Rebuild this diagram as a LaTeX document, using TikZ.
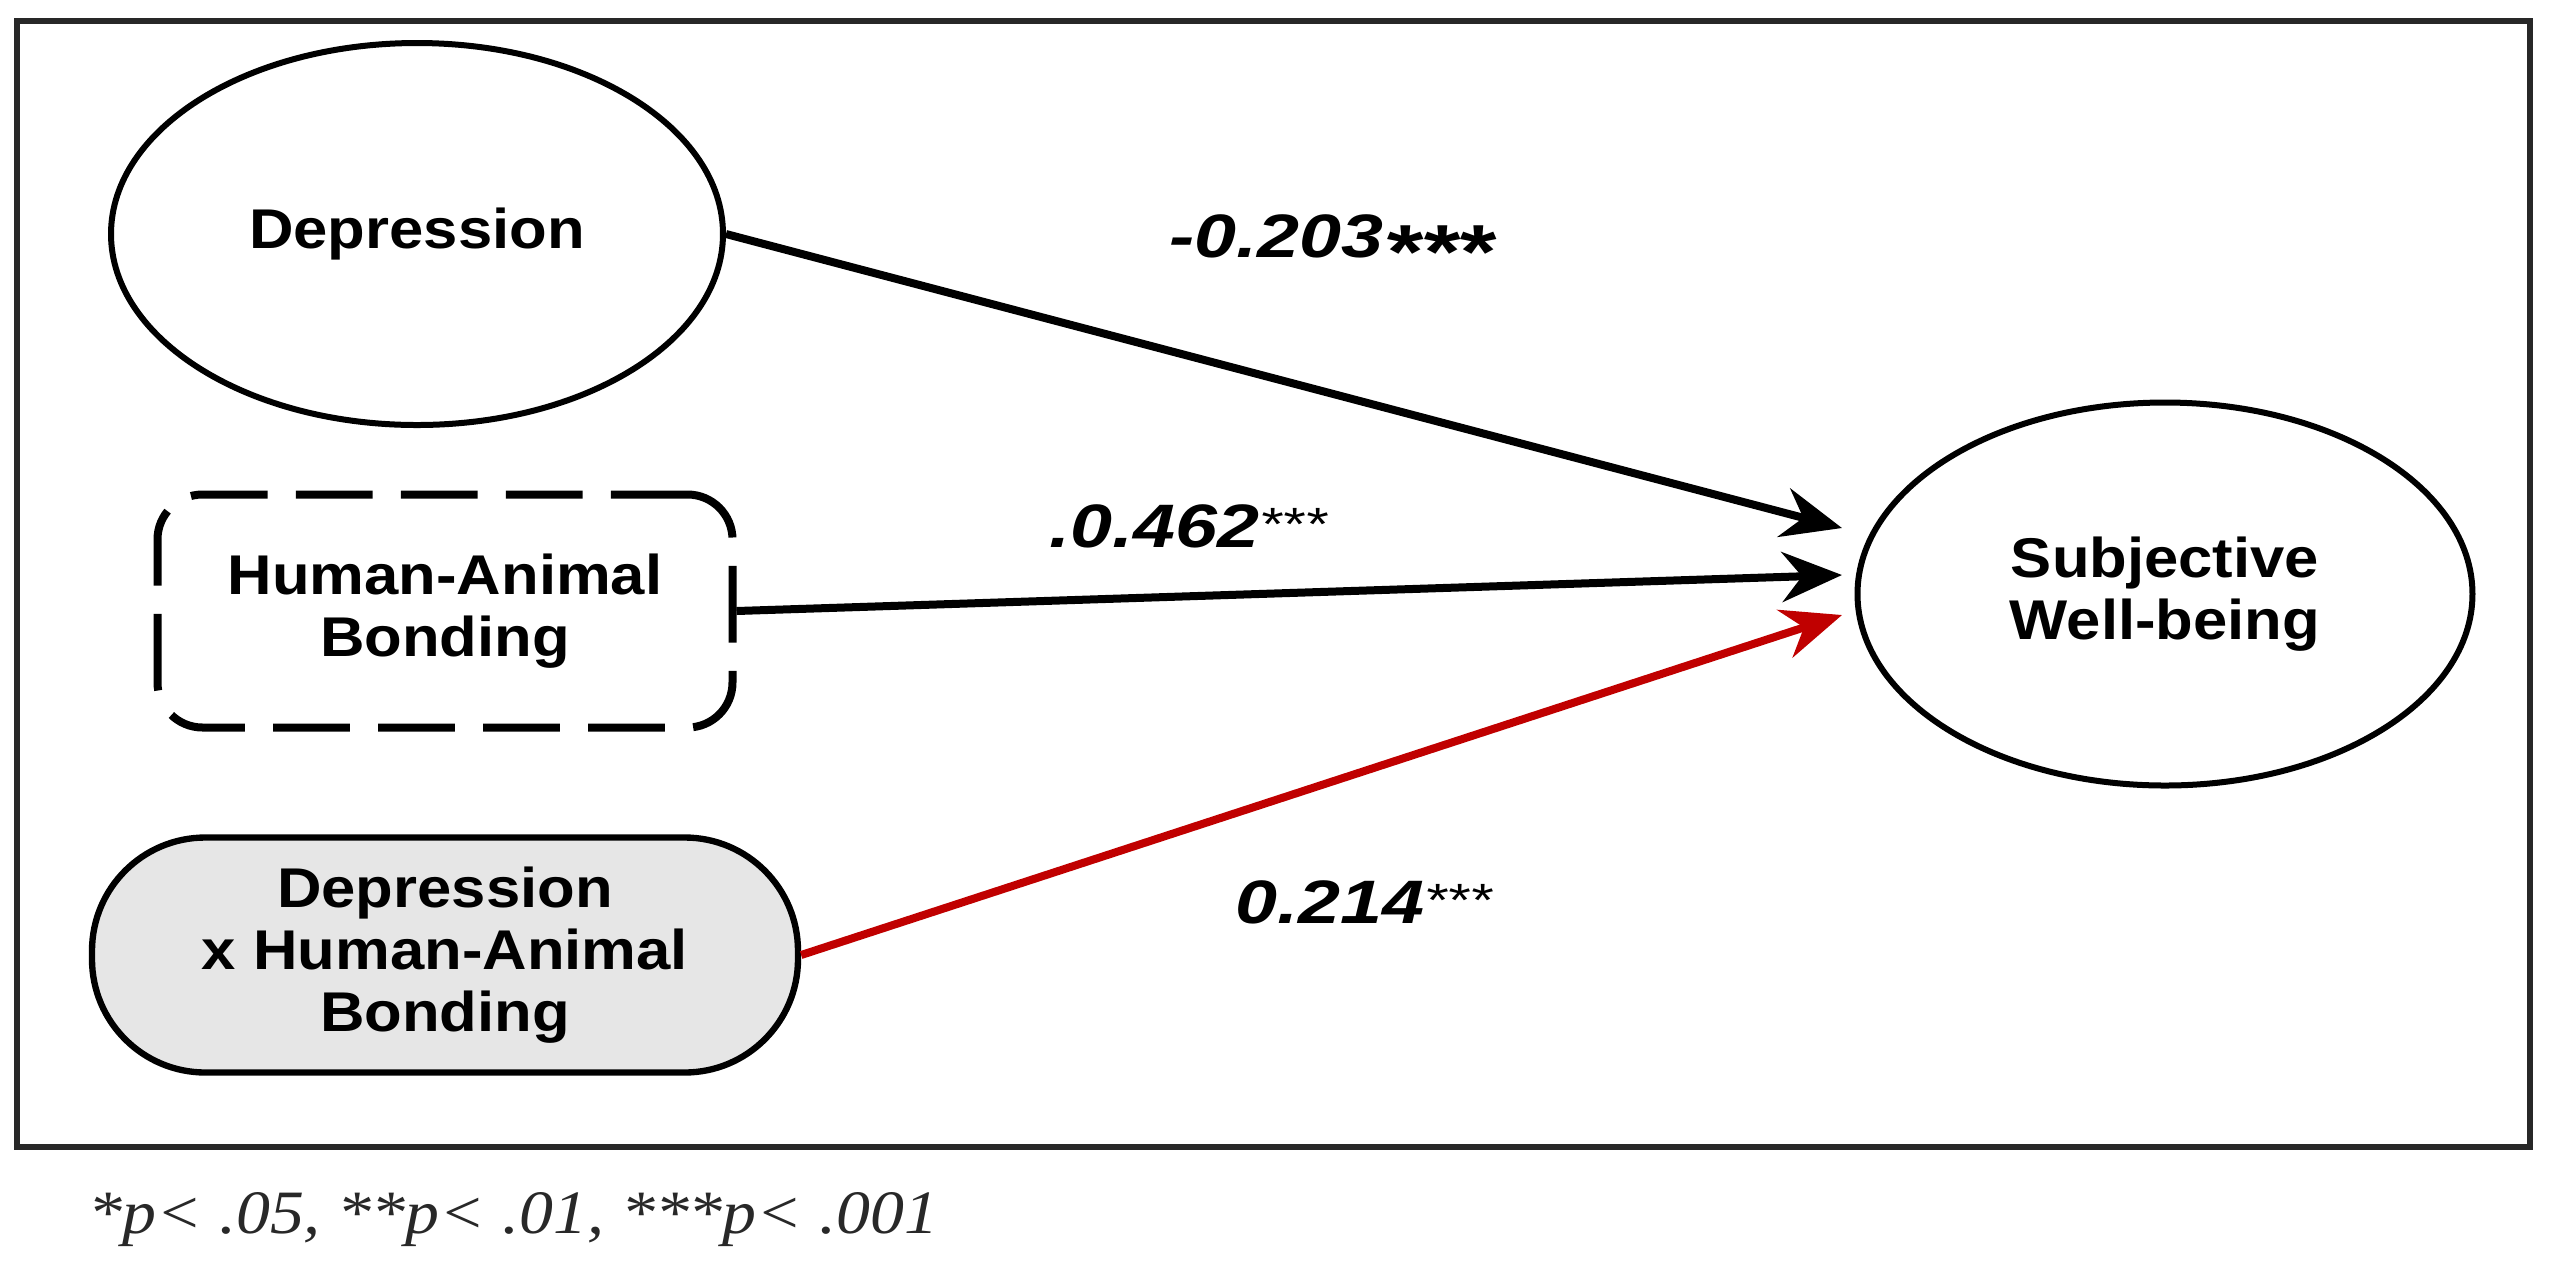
\documentclass[tikz,border=0pt]{standalone}
\usepackage{fontspec}
\usetikzlibrary{arrows.meta,shapes.geometric}
\newfontfamily\nodefont[FakeStretch=1.1]{Liberation Sans}
\newfontfamily\labfont[FakeStretch=1.23]{Liberation Sans}
\newfontfamily\notefont[FakeStretch=1.1]{Liberation Serif}
\definecolor{pathred}{RGB}{192,0,0}
\definecolor{boxgray}{RGB}{230,230,230}
\definecolor{framegray}{RGB}{40,40,40}
\begin{document}
\begin{tikzpicture}[x=0.3pt,y=-0.3pt,
  nodetext/.style={font=\nodefont\bfseries\fontsize{16.8pt}{18.6pt}\selectfont, align=center, inner sep=0pt},
  latent/.style={nodetext, ellipse, draw, line width=1.8pt, minimum width=183.6pt, minimum height=114.6pt},
  dashbox/.style={nodetext, rectangle, draw, line width=2.4pt, rounded corners=13.5pt, dash pattern=on 23pt off 8.5pt, minimum width=172.5pt, minimum height=69.9pt},
  interbox/.style={nodetext, rectangle, draw, fill=boxgray, line width=1.9pt, rounded corners=34pt, minimum width=211.8pt, minimum height=70.5pt},
  pathline/.style={line width=2.4pt, -{Stealth[length=18pt,width=15pt,inset=6pt]}},
  coef/.style={font=\labfont\bfseries\itshape\fontsize{18.4pt}{20pt}\selectfont, anchor=base west, inner sep=0pt},
  note/.style={font=\notefont\itshape\fontsize{18.5pt}{20pt}\selectfont, text=framegray, anchor=base west, inner sep=0pt}
]
\useasboundingbox (0,0) rectangle (2554,1265);
\fill[white] (0,0) rectangle (2554,1265);
\draw[framegray, line width=1.6pt] (17,21) rectangle (2530,1147);

\node[latent] (dep) at (417,234) {Depression};
\node[dashbox] (hab) at (445,611) {Human-Animal\\Bonding};
\node[interbox] (int) at (445,955) {Depression\\x Human-Animal\\Bonding};
\node[latent, minimum width=184.5pt, minimum height=114.9pt] (swb) at (2165,594) {Subjective\\Well-being};

\coordinate (t1) at (1842,528);
\coordinate (t2) at (1842,575);
\coordinate (t3) at (1842,615);

\draw[pathline] (dep.east) -- (t1);
\draw[pathline] (hab.east) -- (t2);
\draw[pathline, pathred] (int.east) -- (t3);

\node[coef] (c1) at (1169,257) {-0.203{\raisebox{-6.3pt}{\fontsize{23pt}{23pt}\selectfont ***}}};
\node[coef] (c2) at (1049,547) {.0.462{\mdseries\raisebox{2pt}{\fontsize{14pt}{14pt}\selectfont ***}}};
\node[coef] (c3) at (1235,923) {0.214{\mdseries\raisebox{2pt}{\fontsize{14pt}{14pt}\selectfont ***}}};

\node[note] (fn) at (88,1233) {*p< .05, **p< .01, ***p< .001};
\end{tikzpicture}
\end{document}
